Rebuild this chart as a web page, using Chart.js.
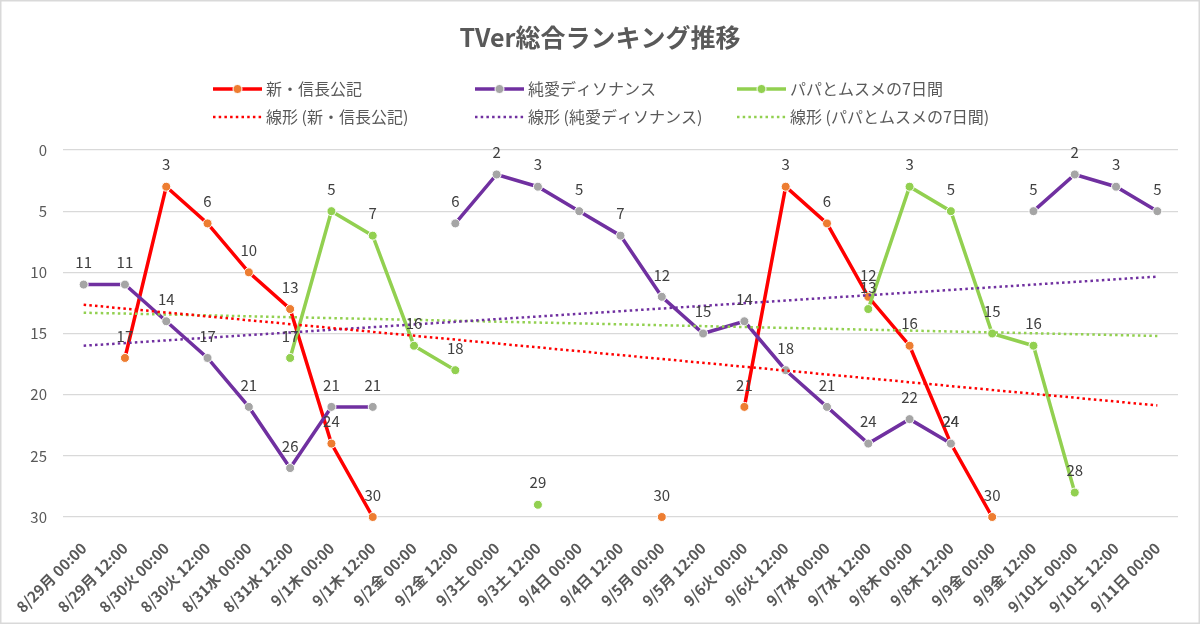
<!DOCTYPE html>
<html>
<head>
<meta charset="utf-8">
<script src="https://cdn.jsdelivr.net/npm/chart.js@4.4.0/dist/chart.umd.min.js"></script>
<style>
html,body{margin:0;padding:0;background:#fff;}
#wrap{position:relative;width:1200px;height:624px;}
</style>
</head>
<body>
<div id="wrap"><canvas id="c"></canvas></div>
<script>
const categories = ["8/29月 00:00","8/29月 12:00","8/30火 00:00","8/30火 12:00","8/31水 00:00","8/31水 12:00","9/1木 00:00","9/1木 12:00","9/2金 00:00","9/2金 12:00","9/3土 00:00","9/3土 12:00","9/4日 00:00","9/4日 12:00","9/5月 00:00","9/5月 12:00","9/6火 00:00","9/6火 12:00","9/7水 00:00","9/7水 12:00","9/8木 00:00","9/8木 12:00","9/9金 00:00","9/9金 12:00","9/10土 00:00","9/10土 12:00","9/11日 00:00"];

const nobunaga = [null,17,3,6,10,13,24,30,null,null,null,null,null,null,30,null,21,3,6,12,16,24,30,null,null,null,null];
const junai = [11,11,14,17,21,26,21,21,null,6,2,3,5,7,12,15,14,18,21,24,22,24,null,5,2,3,5];
const papa = [null,null,null,null,null,17,5,7,16,18,null,29,null,null,null,null,null,null,null,13,3,5,15,16,28,null,null];

// linear trendline values read at the first and last category
const trendNobunaga = [12.65, 20.88];
const trendJunai = [16.0, 10.35];
const trendPapa = [13.3, 15.2];

const seriesNames = ["新・信長公記","純愛ディソナンス","パパとムスメの7日間"];
const trendNames = ["線形 (新・信長公記)","線形 (純愛ディソナンス)","線形 (パパとムスメの7日間)"];
const yTicks = [0,5,10,15,20,25,30];

const FONT = "'Noto Sans CJK JP','Noto Sans',sans-serif";
const lineColors = ['#FF0000','#7030A0','#92D050'];
const markerColors = ['#ED7D31','#A5A5A5','#92D050'];

function trendArray(t){
  const a = categories.map(()=>null);
  a[0]=t[0]; a[a.length-1]=t[1];
  return a;
}

function seriesDS(name,data,i,order){
  return {label:name,data:data,borderColor:lineColors[i],backgroundColor:lineColors[i],
    borderWidth:3.5,pointRadius:4.5,pointHoverRadius:4.5,pointBackgroundColor:markerColors[i],
    pointBorderColor:'#ffffff',pointBorderWidth:1,spanGaps:false,order:order,tension:0,isSeries:true,clip:false};
}
function trendDS(name,t,i){
  return {label:name,data:trendArray(t),borderColor:lineColors[i],borderWidth:2.5,borderDash:[2.5,3.2],
    borderCapStyle:'butt',pointRadius:0,spanGaps:true,order:0,tension:0,isSeries:false,clip:false};
}

const labelPlugin = {
  id:'dataLabels',
  afterDatasetsDraw(chart){
    const ctx = chart.ctx;
    ctx.save();
    ctx.font = "15px "+FONT;
    ctx.fillStyle = '#404040';
    ctx.textAlign='center';
    ctx.textBaseline='middle';
    chart.data.datasets.forEach((ds,di)=>{
      if(!ds.isSeries) return;
      const meta = chart.getDatasetMeta(di);
      meta.data.forEach((el,j)=>{
        const v = ds.data[j];
        if(v===null||v===undefined) return;
        ctx.fillText(String(v), el.x, el.y-22);
      });
    });
    ctx.restore();
  }
};

const decorPlugin = {
  id:'decor',
  afterDraw(chart){
    const ctx = chart.ctx;
    ctx.save();
    // border
    ctx.strokeStyle='#D9D9D9';ctx.lineWidth=1.5;
    ctx.strokeRect(0.75,0.75,1198.5,622.5);
    // title
    ctx.fillStyle='#595959';
    ctx.font="bold 25px "+FONT;
    ctx.textAlign='center';ctx.textBaseline='middle';
    ctx.fillText("TVer総合ランキング推移",600,37);
    // legend
    const cols=[213,475,737];
    const rows=[89,117];
    ctx.font="16px "+FONT;
    ctx.textAlign='left';
    for(let i=0;i<3;i++){
      const x=cols[i];
      // series entry
      ctx.strokeStyle=lineColors[i];ctx.lineWidth=3.5;ctx.setLineDash([]);ctx.lineCap='butt';
      ctx.beginPath();ctx.moveTo(x,rows[0]);ctx.lineTo(x+49,rows[0]);ctx.stroke();
      ctx.fillStyle=markerColors[i];ctx.strokeStyle='#fff';ctx.lineWidth=1;
      ctx.beginPath();ctx.arc(x+24.5,rows[0],4.5,0,Math.PI*2);ctx.fill();ctx.stroke();
      ctx.fillStyle='#595959';
      ctx.fillText(seriesNames[i],x+53,rows[0]);
      // trend entry
      ctx.strokeStyle=lineColors[i];ctx.lineWidth=2.5;ctx.setLineDash([2.5,3.2]);
      ctx.beginPath();ctx.moveTo(x,rows[1]);ctx.lineTo(x+49,rows[1]);ctx.stroke();
      ctx.setLineDash([]);
      ctx.fillStyle='#595959';
      ctx.fillText(trendNames[i],x+53,rows[1]);
    }
    ctx.restore();
  }
};

new Chart(document.getElementById('c'),{
  type:'line',
  data:{
    labels:categories,
    datasets:[
      trendDS(trendNames[0],trendNobunaga,0),
      trendDS(trendNames[1],trendJunai,1),
      trendDS(trendNames[2],trendPapa,2),
      seriesDS(seriesNames[0],nobunaga,0,3),
      seriesDS(seriesNames[1],junai,1,2),
      seriesDS(seriesNames[2],papa,2,1)
    ]
  },
  options:{
    responsive:true,maintainAspectRatio:false,animation:false,
    layout:{padding:{top:150,left:0,right:22,bottom:0}},
    plugins:{legend:{display:false},title:{display:false},tooltip:{enabled:false}},
    scales:{
      x:{
        type:'category',offset:true,
        grid:{display:false},border:{display:false},
        ticks:{autoSkip:false,maxRotation:45,minRotation:45,color:'#595959',padding:14,
          font:{family:FONT,size:15,weight:'bold'}},
        afterFit(s){ s.height = 107; s.paddingLeft = 0; s.paddingRight = 0; }
      },
      y:{
        reverse:true,min:0,max:30,
        afterBuildTicks(s){ s.ticks = yTicks.map(v=>({value:v})); },
        grid:{color:'#D9D9D9',lineWidth:1.3,drawTicks:false},border:{display:false},
        ticks:{color:'#595959',padding:16,font:{family:FONT,size:15}},
        afterFit(s){ s.width = 63; }
      }
    }
  },
  plugins:[labelPlugin,decorPlugin]
});
</script>
</body>
</html>
